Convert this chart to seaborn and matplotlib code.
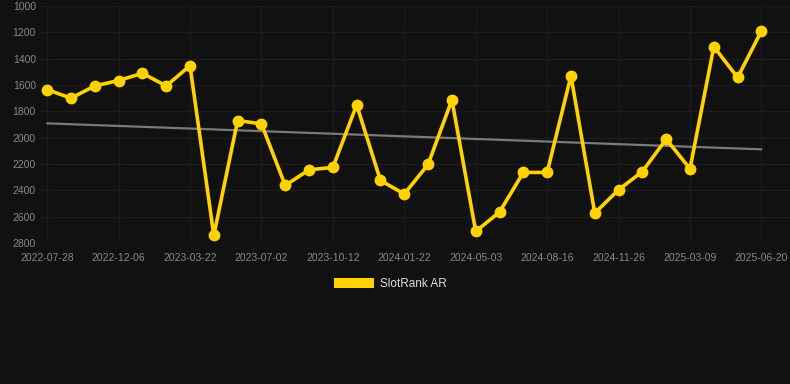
import matplotlib
matplotlib.use("Agg")
import matplotlib.pyplot as plt
import matplotlib.patches as mpatches
import seaborn as sns
import numpy as np
import pandas as pd

# ---- data ----
ranks = [1635, 1700, 1607, 1566, 1511, 1607, 1453, 2742, 1870, 1895,
         2363, 2244, 2226, 1751, 2325, 2428, 2203, 1713, 2712, 2565,
         2264, 2264, 1531, 2573, 2396, 2257, 2011, 2236, 1309, 1543, 1190]
tick_labels = ["2022-07-28", "2022-12-06", "2023-03-22", "2023-07-02",
               "2023-10-12", "2024-01-22", "2024-05-03", "2024-08-16",
               "2024-11-26", "2025-03-09", "2025-06-20"]
series_name = "SlotRank AR"
y_ticks = [1000, 1200, 1400, 1600, 1800, 2000, 2200, 2400, 2600, 2800]

idx = np.arange(len(ranks))
df = pd.DataFrame({"i": idx, "rank": ranks})
coef = np.polyfit(idx, ranks, 1)
df["trend"] = np.polyval(coef, idx)

BG = "#111111"
GOLD = "#FFD200"

sns.set_theme(style="dark")
plt.rcParams["font.family"] = ["Liberation Sans", "DejaVu Sans"]

fig = plt.figure(figsize=(7.9, 3.84), dpi=100, facecolor=BG)
ax = fig.add_axes([40 / 790, 1 - 243 / 384, 1 - 40 / 790, (243 - 6) / 384])
ax.set_facecolor(BG)

sns.lineplot(data=df, x="i", y="trend", ax=ax, color="#7a7a7a", linewidth=1.6)
sns.lineplot(data=df, x="i", y="rank", ax=ax, color=GOLD, linewidth=2.6,
             marker="o", markersize=8.5, markeredgewidth=0, markeredgecolor=GOLD)

ax.set_xlim(-0.3, 31.2)
ax.set_ylim(2800, 1000)
ax.set_yticks(y_ticks)
ax.set_yticklabels([str(v) for v in y_ticks])
ax.set_xticks(idx[::3])
ax.set_xticklabels(tick_labels)
ax.set_xlabel("")
ax.set_ylabel("")
ax.grid(True, color="#1d1d1d", linewidth=0.9)
ax.tick_params(axis="both", colors="#888888", labelsize=7.5, length=0, pad=4)
ax.tick_params(axis="y", pad=3)
ax.tick_params(axis="x", pad=7)
for s in ax.spines.values():
    s.set_visible(False)

handle = mpatches.Patch(color=GOLD, label=series_name, linewidth=0)
leg = fig.legend(handles=[handle], loc="center", bbox_to_anchor=(390 / 790, 1 - 284 / 384),
                 frameon=False, fontsize=8.5, handlelength=3.4, handleheight=1.0,
                 handletextpad=0.5, labelcolor="#dddddd")

fig.savefig("out.png", dpi=100, facecolor=BG)
